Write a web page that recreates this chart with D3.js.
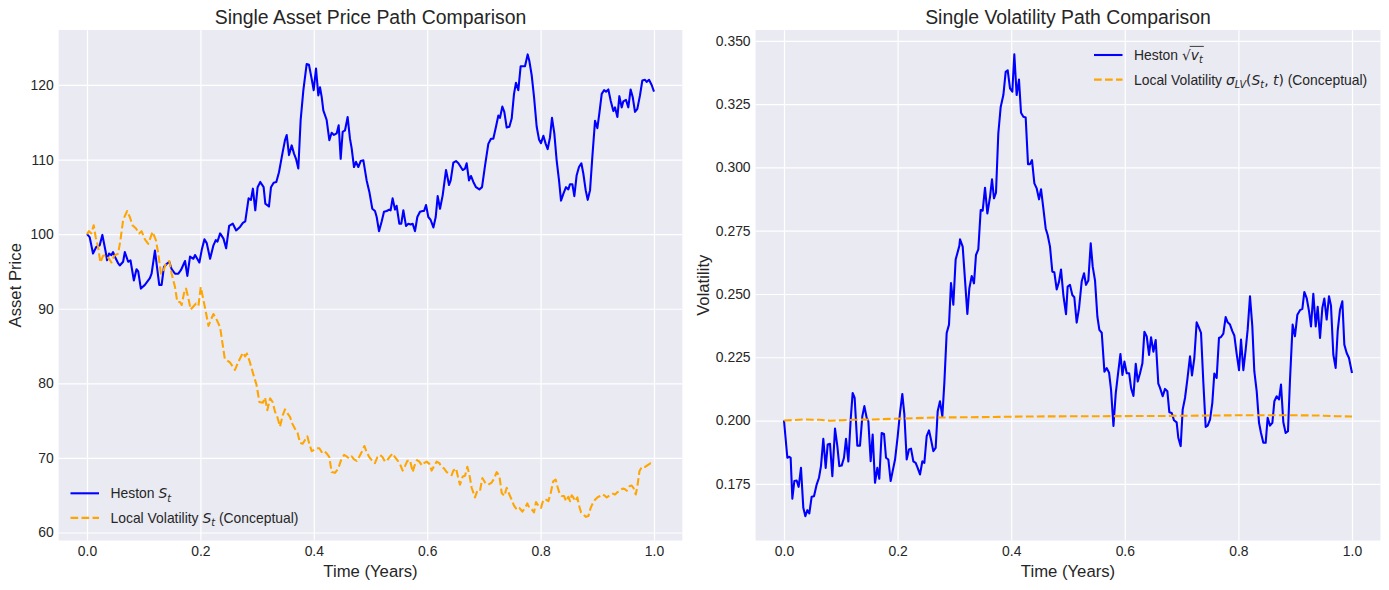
<!DOCTYPE html>
<html>
<head>
<meta charset="utf-8">
<script src="https://d3js.org/d3.v7.min.js"></script>
<style>
body { margin: 0; background: #fff; }
svg text { fill: #262626; font-family: "Liberation Sans", Arial, sans-serif; }
</style>
</head>
<body>
<svg id="chart" width="1389" height="590"></svg>
<script>
// ---- data ----
var timeTicks = [0, 0.2, 0.4, 0.6, 0.8, 1.0];
var priceTicks = [60, 70, 80, 90, 100, 110, 120];
var volTicks = [0.175, 0.2, 0.225, 0.25, 0.275, 0.3, 0.325, 0.35];

// Heston S_t (left, blue)
var hestonT = [0, 0.0047, 0.0106, 0.0165, 0.0224, 0.0271, 0.033, 0.0354, 0.0389, 0.0431, 0.046, 0.049, 0.0549, 0.0578, 0.0637, 0.0667, 0.0726, 0.0767, 0.0826, 0.0873, 0.0903, 0.095, 0.1021, 0.1109, 0.1139, 0.1198, 0.1274, 0.1316, 0.1357, 0.1404, 0.1451, 0.1493, 0.1552, 0.1611, 0.1658, 0.1729, 0.177, 0.1817, 0.1876, 0.1906, 0.1982, 0.2024, 0.2071, 0.2112, 0.2171, 0.223, 0.2271, 0.2301, 0.2348, 0.2407, 0.2454, 0.2507, 0.2572, 0.2631, 0.2702, 0.2749, 0.2791, 0.285, 0.2891, 0.2926, 0.2968, 0.3009, 0.3056, 0.3115, 0.3145, 0.3209, 0.3245, 0.3292, 0.3339, 0.3386,
  0.3451, 0.3492, 0.3522, 0.3563, 0.361, 0.3651, 0.3686, 0.3727, 0.3768, 0.3816, 0.3874, 0.3915, 0.3963, 0.3998, 0.4039, 0.408, 0.4109, 0.4139, 0.4168, 0.4227, 0.4274, 0.4315, 0.4356, 0.4403, 0.4439, 0.4474, 0.4509, 0.455, 0.4597, 0.4638, 0.4668, 0.4709, 0.4744, 0.4785, 0.4827, 0.4874, 0.4932, 0.4979, 0.5032, 0.5079, 0.5109, 0.515, 0.5197, 0.5238, 0.5285, 0.5332, 0.5355, 0.539, 0.5432, 0.5461, 0.5508, 0.5543, 0.5579, 0.5626, 0.5667, 0.5708, 0.5744, 0.5785, 0.5826, 0.5873, 0.592, 0.5944, 0.5979, 0.602, 0.6061, 0.6109, 0.615, 0.6185, 0.6226, 0.6273, 0.6332, 0.6385, 0.6414, 0.6461, 0.6508, 0.655,
  0.6626, 0.6667, 0.6696, 0.6737, 0.6772, 0.6814, 0.6861, 0.692, 0.6967, 0.702, 0.7078, 0.7125, 0.7166, 0.7213, 0.7255, 0.7284, 0.7325, 0.736, 0.7402, 0.7449, 0.749, 0.7531, 0.7566, 0.7607, 0.7648, 0.7725, 0.7772, 0.7802, 0.7843, 0.7884, 0.7931, 0.7972, 0.8007, 0.8049, 0.809, 0.8125, 0.8166, 0.8201, 0.8242, 0.8283, 0.8325, 0.836, 0.8401, 0.8448, 0.8489, 0.8519, 0.856, 0.8595, 0.8636, 0.8677, 0.8719, 0.8754, 0.8795, 0.8831, 0.8872, 0.8913, 0.896, 0.9001, 0.9036, 0.9078, 0.9119, 0.9154, 0.9195, 0.9236, 0.9283, 0.9312, 0.9354, 0.9389, 0.943, 0.9459, 0.9506, 0.9547, 0.9588, 0.9624, 0.9665, 0.9706, 0.9753, 0.9794, 0.9841, 0.987, 0.9912, 0.9959, 1.0];
var hestonS = [100.0, 99.6, 97.4, 98.3, 98.5, 99.9, 97.6, 96.5, 97.4, 97.2, 97.6, 97.0, 96.1, 95.8, 96.3, 97.6, 96.3, 96.5, 93.8, 95.3, 95.0, 92.7, 93.2, 94.1, 94.7, 97.8, 93.2, 93.2, 95.6, 96.0, 96.3, 95.3, 94.7, 94.7, 95.2, 96.4, 94.4, 97.0, 96.7, 97.2, 96.2, 97.9, 99.3, 98.8, 96.7, 98.5, 99.2, 99.0, 100.1, 99.4, 98.1, 101.1, 101.4, 100.5, 101.0, 101.5, 101.7, 104.8, 104.6, 106.1, 103.2, 106.3, 107.0, 106.3, 104.1, 103.7, 106.3, 106.9, 107.0, 108.3,
  111.0, 112.6, 113.3, 110.6, 111.9, 110.8, 110.1, 108.8, 115.3, 119.3, 122.8, 122.7, 120.8, 119.3, 122.2, 118.6, 119.7, 118.4, 116.6, 115.3, 112.6, 113.6, 113.3, 113.5, 114.6, 110.1, 113.7, 113.9, 115.7, 112.8, 111.5, 109.0, 109.7, 109.0, 109.8, 109.9, 107.2, 105.7, 103.4, 103.1, 102.3, 100.4, 101.7, 103.0, 103.1, 103.3, 103.2, 104.8, 103.3, 103.8, 101.4, 101.4, 103.2, 101.1, 101.4, 101.3, 101.4, 100.4, 102.3, 103.0, 103.1, 103.1, 103.9, 102.3, 101.9, 100.9, 102.3, 105.1, 103.4, 105.2, 108.6, 106.6, 107.2, 109.6, 109.8, 109.5,
  108.6, 108.8, 109.5, 107.2, 107.8, 107.0, 106.3, 106.0, 106.3, 109.2, 112.1, 112.8, 112.8, 114.4, 115.9, 115.6, 117.1, 116.4, 114.3, 114.4, 115.5, 118.8, 120.3, 119.3, 122.5, 122.5, 124.1, 123.2, 121.3, 118.4, 114.4, 112.7, 112.2, 113.2, 112.1, 111.4, 113.0, 115.6, 113.5, 109.9, 107.2, 104.5, 105.4, 106.3, 106.0, 106.7, 106.7, 105.1, 107.9, 109.0, 109.5, 108.1, 105.9, 104.6, 105.9, 110.4, 115.2, 114.2, 116.2, 118.8, 119.3, 119.1, 119.4, 117.9, 116.5, 117.0, 115.7, 118.5, 117.0, 117.8, 118.0, 117.0, 119.4, 118.4, 116.4, 116.8, 118.6, 120.6, 120.7, 120.4, 120.7, 120.0, 119.1];

// Local volatility S_t (left, orange dashed)
var localT = [0, 0.0035, 0.0077, 0.0118, 0.0153, 0.0195, 0.0236, 0.0283, 0.033, 0.0389, 0.0431, 0.0478, 0.0549, 0.059, 0.0637, 0.0708, 0.0755, 0.0802, 0.0861, 0.092, 0.0962, 0.1021, 0.108, 0.1109, 0.1156, 0.1215, 0.1257, 0.1304, 0.1345, 0.1392, 0.1451, 0.1493, 0.1552, 0.1593, 0.164, 0.167, 0.1711, 0.1746, 0.1788, 0.1829, 0.1876, 0.1923, 0.1965, 0.2006, 0.2053, 0.21, 0.2142, 0.2183, 0.223, 0.2289, 0.2348,
  0.243, 0.252, 0.261, 0.267, 0.275, 0.279, 0.282, 0.287, 0.293, 0.299, 0.304, 0.31, 0.314, 0.318, 0.323,
  0.3274, 0.3316, 0.3357, 0.3404, 0.3451, 0.3492, 0.3533, 0.358, 0.3621, 0.3668, 0.3716, 0.3757, 0.3804, 0.3845, 0.3886, 0.3921, 0.3963, 0.401, 0.4051, 0.4098, 0.4139, 0.418, 0.4227, 0.4274, 0.4315, 0.4374, 0.4433, 0.448, 0.4533, 0.458, 0.4627, 0.4668, 0.4709, 0.4757, 0.4804, 0.4845, 0.4892, 0.4932, 0.4979, 0.5021, 0.5079, 0.5121, 0.5168, 0.5215, 0.5256, 0.5297, 0.5344, 0.5391, 0.5432, 0.5473, 0.552, 0.5567, 0.5608, 0.5649, 0.5697, 0.5744, 0.5773, 0.582, 0.5861, 0.5908, 0.5944, 0.5991, 0.6038, 0.6079, 0.612, 0.6167, 0.6214, 0.6255, 0.6296, 0.6344, 0.6391, 0.6432, 0.6461, 0.6508, 0.655,
  0.6578, 0.6626, 0.6667, 0.6708, 0.6743, 0.6784, 0.6843, 0.6884, 0.6931, 0.6973, 0.702, 0.7078, 0.7137, 0.7178, 0.7225, 0.7273, 0.7314, 0.7361, 0.7402, 0.7449, 0.749, 0.7531, 0.7578, 0.7625, 0.7678, 0.7725, 0.7766, 0.7802, 0.7843, 0.7884, 0.7919, 0.796, 0.8007, 0.8049, 0.8096, 0.8137, 0.8178, 0.8225, 0.8266, 0.8296, 0.8331, 0.8372, 0.8413, 0.8448, 0.8489, 0.8519, 0.8548, 0.8578, 0.8607, 0.8648, 0.8683, 0.8713, 0.8754, 0.8801, 0.8842, 0.8883, 0.8919, 0.896, 0.9001, 0.9048, 0.9095, 0.9136, 0.9166, 0.9225, 0.9272, 0.9313, 0.9354, 0.9401, 0.9448, 0.9489, 0.9519, 0.9566, 0.9607, 0.9637, 0.9678, 0.9707, 0.9743, 0.9784, 0.9843, 0.9902, 0.9943, 1.0];
var localS = [100.0, 100.4, 100.1, 101.2, 99.6, 98.3, 96.2, 97.1, 97.2, 96.7, 96.2, 97.1, 97.4, 99.2, 101.9, 103.1, 102.3, 101.2, 100.8, 100.1, 100.4, 99.3, 98.7, 99.3, 100.3, 99.2, 97.4, 94.7, 95.0, 96.1, 96.4, 94.7, 92.9, 90.9, 90.9, 90.5, 92.1, 92.7, 91.4, 89.9, 90.3, 90.7, 90.4, 92.9, 91.2, 89.4, 87.7, 88.5, 89.3, 88.5, 87.5,
  83.3, 82.8, 81.8, 82.9, 84.1, 83.6, 84.0, 82.9, 81.3, 79.8, 77.5, 77.4, 78.1, 76.4, 78.0,
  77.5, 76.2, 75.5, 74.2, 75.7, 76.5, 76.0, 75.5, 74.6, 73.9, 73.3, 72.0, 71.9, 72.4, 72.9, 71.9, 70.9, 71.1, 71.3, 71.3, 70.8, 71.0, 70.6, 70.1, 68.1, 68.0, 68.6, 69.7, 70.4, 70.2, 69.9, 70.2, 69.8, 69.6, 70.2, 70.8, 71.6, 70.8, 70.1, 69.7, 69.3, 70.1, 70.4, 70.1, 69.5, 69.7, 70.2, 70.6, 70.1, 69.7, 69.2, 68.3, 68.9, 69.6, 69.7, 68.1, 68.9, 69.7, 69.5, 69.0, 69.3, 69.5, 69.2, 68.3, 68.9, 69.5, 69.3, 68.8, 68.6, 68.1, 67.9, 67.7, 68.3, 68.6, 67.2,
  66.4, 67.5, 67.6, 68.8, 67.8, 66.0, 64.7, 65.6, 65.6, 67.3, 66.7, 66.4, 66.7, 67.2, 68.1, 67.6, 65.3, 64.9, 66.0, 65.1, 64.4, 63.6, 63.1, 63.3, 62.8, 63.3, 63.9, 63.3, 63.1, 62.7, 64.1, 63.6, 63.3, 64.4, 64.4, 64.2, 65.3, 66.9, 67.1, 66.2, 65.3, 64.9, 64.9, 64.2, 64.8, 64.2, 65.0, 64.7, 64.2, 64.7, 63.5, 62.7, 62.4, 62.1, 62.2, 63.3, 63.9, 64.4, 64.7, 64.9, 65.1, 64.9, 64.7, 65.0, 65.2, 65.1, 65.4, 65.6, 65.9, 65.8, 65.6, 66.2, 66.3, 66.0, 65.1, 66.2, 68.2, 68.8, 68.8, 69.1, 69.3, 69.3];

// Heston sqrt(v_t) (right, blue)
var volT = [0, 0.0059, 0.0094, 0.0117, 0.0147, 0.0182, 0.0223, 0.0258, 0.0299, 0.034, 0.0376, 0.0411, 0.0446, 0.0487, 0.0528, 0.0575, 0.0616, 0.0651, 0.0692, 0.0734, 0.0769, 0.081, 0.0851, 0.0898, 0.0939, 0.0974, 0.1015, 0.1056, 0.1092, 0.1133, 0.1174, 0.1209, 0.1244, 0.1291, 0.1338, 0.1379, 0.1415, 0.1455, 0.1485, 0.1526, 0.1561, 0.1602, 0.1643, 0.1678, 0.1719, 0.1761, 0.1796, 0.1837, 0.1878, 0.1913, 0.1955, 0.2002, 0.2042, 0.2083, 0.2119, 0.216, 0.2201, 0.2236, 0.2277, 0.2318, 0.2353, 0.2394, 0.2436, 0.2471, 0.2512, 0.2553, 0.2588, 0.2629, 0.267, 0.2706, 0.2746, 0.2788, 0.2823, 0.2864, 0.2905, 0.294, 0.2981, 0.3022, 0.3087,
  0.3099, 0.3146, 0.3187, 0.3228, 0.3263, 0.3305, 0.3345, 0.338, 0.3421, 0.3463, 0.3498, 0.3539, 0.358, 0.3627, 0.3662, 0.3697, 0.3732, 0.3773, 0.3815, 0.3862, 0.3903, 0.3938, 0.3979, 0.402, 0.4055, 0.4096, 0.4137, 0.4173, 0.4214, 0.4255, 0.4296, 0.4331, 0.4366, 0.4408, 0.4449, 0.449, 0.4525, 0.4566, 0.4607, 0.4642, 0.4683, 0.4724, 0.4759, 0.4801, 0.4842, 0.4877, 0.4918, 0.4965, 0.4994, 0.5035, 0.5076, 0.5111, 0.5153, 0.5194, 0.5241, 0.5282, 0.5317, 0.5358, 0.54, 0.5435, 0.5476, 0.5517, 0.5552, 0.5594, 0.5641, 0.5682, 0.5723, 0.5758, 0.58, 0.5841, 0.5882, 0.5923, 0.5958, 0.5993, 0.6034, 0.6076, 0.6111, 0.6152, 0.6193, 0.6228, 0.6268, 0.631, 0.6345, 0.6386, 0.6427, 0.6462, 0.6503, 0.6544,
  0.659, 0.662, 0.6667, 0.6708, 0.6749, 0.6784, 0.6825, 0.6866, 0.6913, 0.6942, 0.6984, 0.7019, 0.706, 0.7101, 0.7148, 0.7183, 0.7224, 0.7265, 0.73, 0.7342, 0.7383, 0.7424, 0.7459, 0.75, 0.7541, 0.7576, 0.7617, 0.7658, 0.7694, 0.7735, 0.7776, 0.7811, 0.7852, 0.7893, 0.7928, 0.7969, 0.8011, 0.8046, 0.8087, 0.8128, 0.8163, 0.8204, 0.8245, 0.828, 0.8322, 0.8363, 0.8398, 0.8439, 0.848, 0.8515, 0.8556, 0.8598, 0.8633, 0.8674, 0.8715, 0.875, 0.8791, 0.8832, 0.8873, 0.8908, 0.8955, 0.8996, 0.9038, 0.9085, 0.9126, 0.9161, 0.9202, 0.9243, 0.9278, 0.9319, 0.9361, 0.9396, 0.9437, 0.9478, 0.9513, 0.9554, 0.9595, 0.963, 0.9671, 0.9712, 0.9748, 0.9789, 0.983, 0.9865, 0.9906, 0.9947, 1.0];
var volH = [0.2000, 0.1853, 0.1857, 0.1853, 0.1691, 0.1761, 0.1763, 0.1738, 0.1813, 0.1655, 0.1622, 0.1646, 0.1633, 0.1699, 0.1701, 0.1747, 0.1774, 0.1820, 0.1928, 0.1813, 0.1905, 0.1908, 0.1780, 0.1968, 0.1899, 0.1820, 0.1822, 0.1853, 0.1928, 0.1838, 0.2004, 0.2109, 0.2089, 0.1901, 0.1901, 0.2017, 0.2057, 0.2011, 0.1997, 0.1839, 0.1945, 0.1754, 0.1813, 0.1770, 0.1951, 0.1947, 0.1853, 0.1846, 0.1761, 0.1800, 0.1846, 0.1938, 0.2030, 0.2105, 0.2024, 0.1846, 0.1886, 0.1889, 0.1839, 0.1833, 0.1813, 0.1787, 0.1839, 0.1833, 0.1938, 0.1961, 0.1925, 0.1879, 0.1892, 0.2037, 0.2076, 0.2017, 0.2149, 0.2346, 0.2379, 0.2543, 0.2458, 0.2636, 0.2690,
  0.2716, 0.2687, 0.2555, 0.2421, 0.2522, 0.2571, 0.2542, 0.2654, 0.2676, 0.2832, 0.2829, 0.2920, 0.2818, 0.2884, 0.2953, 0.2878, 0.2900, 0.3134, 0.3239, 0.3286, 0.3378, 0.3384, 0.3312, 0.3299, 0.3447, 0.3286, 0.3347, 0.3216, 0.3200, 0.3197, 0.3013, 0.3013, 0.3029, 0.2937, 0.2917, 0.2874, 0.2914, 0.2838, 0.2759, 0.2733, 0.2687, 0.2588, 0.2586, 0.2518, 0.2549, 0.2597, 0.2496, 0.2420, 0.2529, 0.2536, 0.2496, 0.2487, 0.2387, 0.2443, 0.2549, 0.2582, 0.2536, 0.2553, 0.2700, 0.2608, 0.2553, 0.2411, 0.2358, 0.2347, 0.2193, 0.2207, 0.2189, 0.2121, 0.1979, 0.2108, 0.2187, 0.2263, 0.2180, 0.2233, 0.2187, 0.2187, 0.2128, 0.2097, 0.2224, 0.2154, 0.2187, 0.2226, 0.2351, 0.2332, 0.2259, 0.2329, 0.2272, 0.2318,
  0.2146, 0.2129, 0.2096, 0.2125, 0.2116, 0.2033, 0.2030, 0.2001, 0.1993, 0.1932, 0.1899, 0.2043, 0.2089, 0.2162, 0.2254, 0.2178, 0.2247, 0.2388, 0.2370, 0.2346, 0.2149, 0.1975, 0.1980, 0.2004, 0.2070, 0.2186, 0.2168, 0.2326, 0.2330, 0.2343, 0.2409, 0.2388, 0.2379, 0.2353, 0.2336, 0.2264, 0.2199, 0.2320, 0.2199, 0.2280, 0.2359, 0.2491, 0.2372, 0.2195, 0.2116, 0.1991, 0.1951, 0.1912, 0.1912, 0.2011, 0.1980, 0.1991, 0.2076, 0.2096, 0.2083, 0.2142, 0.1993, 0.1951, 0.1958, 0.2159, 0.2379, 0.2333, 0.2418, 0.2436, 0.2441, 0.2508, 0.2484, 0.2432, 0.2372, 0.2501, 0.2372, 0.2449, 0.2326, 0.2445, 0.2482, 0.2399, 0.2491, 0.2454, 0.2261, 0.2208, 0.2353, 0.2438, 0.2471, 0.2300, 0.2267, 0.2247, 0.2188];

// Local volatility sigma_LV (right, orange dashed)
var lvT = [0, 0.034, 0.063, 0.081, 0.122, 0.151, 0.21, 0.269, 0.327, 0.368, 0.427, 0.545, 0.662, 0.762, 0.82, 0.879, 0.94, 0.973, 1.0];
var lvSigma = [0.2000, 0.2004, 0.2003, 0.1999, 0.2003, 0.2004, 0.2008, 0.2012, 0.2013, 0.2014, 0.2016, 0.2017, 0.2018, 0.2020, 0.2021, 0.2021, 0.2020, 0.2017, 0.2016];

var FONT = '"Liberation Sans", Arial, sans-serif';
var MATH = '"DejaVu Sans", sans-serif';
var INK = "#262626";
var top_ = 30, bottom = 540.5;

var svg = d3.select("#chart");
svg.append("rect").attr("width", 1389).attr("height", 590).attr("fill", "#fff");

// draw a text made of plain / italic math / subscript pieces
function richText(g, x, y, parts, size) {
  var t = g.append("text").attr("x", x).attr("y", y).style("font-size", size + "px");
  var shift = 0;
  parts.forEach(function(p) {
    var s = t.append("tspan").text(p.t);
    var want = p.sub ? size * 0.25 : 0;
    if (want !== shift) { s.attr("dy", want - shift); shift = want; }
    if (p.m) s.style("font-family", MATH);
    if (p.it) s.style("font-style", "italic");
    if (p.sub) s.style("font-size", (size * 0.7) + "px");
  });
  return t;
}

function drawPanel(cfg) {
  var g = svg.append("g");
  var x = d3.scaleLinear().domain([-0.05, 1.05]).range([cfg.left, cfg.right]);
  var y = d3.scaleLinear().domain(cfg.yDomain).range([bottom, top_]);

  g.append("rect")
    .attr("x", cfg.left).attr("y", top_)
    .attr("width", cfg.right - cfg.left).attr("height", bottom - top_)
    .attr("fill", "#eaeaf2");

  var xa = g.append("g").attr("transform", "translate(0," + bottom + ")")
    .call(d3.axisBottom(x).tickValues(timeTicks).tickFormat(d3.format(".1f"))
      .tickSize(-(bottom - top_)).tickPadding(6));
  var ya = g.append("g").attr("transform", "translate(" + cfg.left + ",0)")
    .call(d3.axisLeft(y).tickValues(cfg.yTicks).tickFormat(cfg.yFormat)
      .tickSize(-(cfg.right - cfg.left)).tickPadding(5));
  [xa, ya].forEach(function(a) {
    a.attr("font-family", null).attr("font-size", null);
    a.select(".domain").remove();
    a.selectAll("line").attr("stroke", "#fff").attr("stroke-width", 1.2);
    a.selectAll("text").attr("fill", INK).style("font-size", "13.9px");
  });

  var clipId = "clip" + cfg.id;
  g.append("clipPath").attr("id", clipId).append("rect")
    .attr("x", cfg.left).attr("y", top_)
    .attr("width", cfg.right - cfg.left).attr("height", bottom - top_);

  cfg.series.forEach(function(s) {
    var line = d3.line().x(function(i) { return x(s.t[i]); })
                        .y(function(i) { return y(s.v[i]); });
    g.append("path")
      .datum(d3.range(s.t.length))
      .attr("clip-path", "url(#" + clipId + ")")
      .attr("d", line)
      .attr("fill", "none")
      .attr("stroke", s.color)
      .attr("stroke-width", 2.08)
      .attr("stroke-linejoin", "round")
      .attr("stroke-dasharray", s.dash || null);
  });

  var cx = (cfg.left + cfg.right) / 2;
  g.append("text").attr("x", cx).attr("y", 23.5).attr("text-anchor", "middle")
    .style("font-size", "19.4px").text(cfg.title);
  g.append("text").attr("x", cx).attr("y", 577).attr("text-anchor", "middle")
    .style("font-size", "16.7px").text("Time (Years)");
  g.append("text")
    .attr("transform", "translate(" + cfg.yLabelX + "," + ((top_ + bottom) / 2) + ") rotate(-90)")
    .attr("text-anchor", "middle").style("font-size", "16.7px").text(cfg.yLabel);

  // legend, no frame
  cfg.legend.forEach(function(L, i) {
    var ly = cfg.legendY + i * 24.6;
    g.append("line")
      .attr("x1", cfg.legendX).attr("x2", cfg.legendX + 28.5)
      .attr("y1", ly).attr("y2", ly)
      .attr("stroke", L.color).attr("stroke-width", 2.08)
      .attr("stroke-dasharray", L.dash || null);
    var t = richText(g, cfg.legendX + 40, ly + 5, L.parts, 13.9);
    if (L.overline) {
      var n = t.node();
      var x0 = n.getStartPositionOfChar(L.overline[0]).x;
      var x1 = n.getEndPositionOfChar(L.overline[1]).x;
      g.append("line").attr("x1", x0 - 1).attr("x2", x1 + 1)
        .attr("y1", ly - 8.6).attr("y2", ly - 8.6)
        .attr("stroke", INK).attr("stroke-width", 0.9);
    }
  });
}

drawPanel({
  id: "price", left: 58.65, right: 682.35,
  yDomain: [58.93, 127.37], yTicks: priceTicks, yFormat: d3.format("d"),
  title: "Single Asset Price Path Comparison", yLabel: "Asset Price", yLabelX: 21,
  series: [
    { t: hestonT, v: hestonS, color: "#0000ff" },
    { t: localT, v: localS, color: "#ffa500", dash: "7.7,3.3" }
  ],
  legendX: 70.5, legendY: 493.3,
  legend: [
    { color: "#0000ff", parts: [{ t: "Heston " }, { t: "S", m: 1, it: 1 }, { t: "t", m: 1, it: 1, sub: 1 }] },
    { color: "#ffa500", dash: "7.7,3.3", parts: [{ t: "Local Volatility " }, { t: "S", m: 1, it: 1 }, { t: "t", m: 1, it: 1, sub: 1 }, { t: " (Conceptual)" }] }
  ]
});

drawPanel({
  id: "vol", left: 755.6, right: 1380.4,
  yDomain: [0.1526, 0.3543], yTicks: volTicks, yFormat: d3.format(".3f"),
  title: "Single Volatility Path Comparison", yLabel: "Volatility", yLabelX: 709,
  series: [
    { t: volT, v: volH, color: "#0000ff" },
    { t: lvT, v: lvSigma, color: "#ffa500", dash: "7.7,3.3" }
  ],
  legendX: 1094, legendY: 55,
  legend: [
    { color: "#0000ff", overline: [8, 9],
      parts: [{ t: "Heston " }, { t: "\u221a", m: 1 }, { t: "v", m: 1, it: 1 }, { t: "t", m: 1, it: 1, sub: 1 }] },
    { color: "#ffa500", dash: "7.7,3.3",
      parts: [{ t: "Local Volatility " }, { t: "\u03c3", m: 1, it: 1 }, { t: "LV", m: 1, it: 1, sub: 1 },
              { t: "(", m: 1 }, { t: "S", m: 1, it: 1 }, { t: "t", m: 1, it: 1, sub: 1 },
              { t: ",", m: 1 }, { t: " t", m: 1, it: 1 }, { t: ")", m: 1 }, { t: " (Conceptual)" }] }
  ]
});
</script>
</body>
</html>
